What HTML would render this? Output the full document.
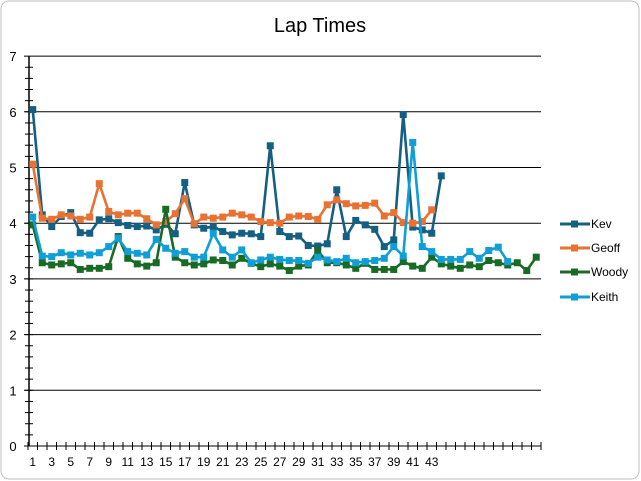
<!DOCTYPE html>
<html><head><meta charset="utf-8"><style>
body{margin:0;background:#fff}
svg{display:block;font-family:"Liberation Sans",sans-serif}
</style></head><body>
<svg id="s" width="641" height="481" xmlns="http://www.w3.org/2000/svg">
<rect x="1" y="1" width="638" height="478" rx="8" fill="#fff" stroke="#bfbfbf"/>
<text x="320" y="32" font-size="20" text-anchor="middle" fill="#000">Lap Times</text>
<g id="g"></g>
<g font-size="12" fill="#000">
<line x1="560" y1="224" x2="590" y2="224" stroke="#156082" stroke-width="3"/><rect x="571" y="220.5" width="7" height="7" fill="#156082"/><text x="591" y="228">Kev</text>
<line x1="560" y1="248" x2="590" y2="248" stroke="#e97132" stroke-width="3"/><rect x="571" y="244.5" width="7" height="7" fill="#e97132"/><text x="591" y="252">Geoff</text>
<line x1="560" y1="272" x2="590" y2="272" stroke="#196b24" stroke-width="3"/><rect x="571" y="268.5" width="7" height="7" fill="#196b24"/><text x="591" y="276">Woody</text>
<line x1="560" y1="297" x2="590" y2="297" stroke="#0f9ed5" stroke-width="3"/><rect x="571" y="293.5" width="7" height="7" fill="#0f9ed5"/><text x="591" y="301">Keith</text>
</g>
</svg>
<script>
var g=document.getElementById('g'),h='';
var X0=28,X1=541,Y0=446,U=55.7,W=9.5;
function yv(v){return Y0-v*U}
function xi(i){return X0+(i-0.5)*W}
for(var v=0;v<=7;v++){var y=yv(v);h+='<line x1="24" y1="'+y+'" x2="'+X1+'" y2="'+y+'" stroke="#000" stroke-width="1"/>';
h+='<text x="13" y="'+(y+5)+'" font-size="13" text-anchor="middle">'+v+'</text>';}
for(var k=0;k<35;k++){var y=yv(k*0.2);h+='<line x1="25" y1="'+y+'" x2="33" y2="'+y+'" stroke="#000"/>';}
h+='<line x1="29" y1="'+yv(7)+'" x2="29" y2="'+Y0+'" stroke="#000" stroke-width="1.5"/>';
for(var i=0;i<=54;i++){var x=X0+i*W;h+='<line x1="'+x+'" y1="'+(Y0-4)+'" x2="'+x+'" y2="'+(Y0+4)+'" stroke="#000"/>';}
for(var i=1;i<=43;i+=2)h+='<text x="'+xi(i)+'" y="466" font-size="12" text-anchor="middle">'+i+'</text>';
var S=[
["#156082",[6.04,4.15,3.94,4.12,4.19,3.83,3.82,4.06,4.08,4.01,3.96,3.94,3.95,3.88,3.98,3.81,4.73,3.97,3.91,3.94,3.85,3.79,3.82,3.81,3.76,5.39,3.85,3.76,3.77,3.6,3.59,3.63,4.6,3.76,4.05,3.97,3.89,3.58,3.7,5.95,3.93,3.88,3.82,4.85]],
["#e97132",[5.06,4.09,4.07,4.15,4.13,4.07,4.11,4.71,4.21,4.15,4.18,4.18,4.08,3.97,4.03,4.17,4.44,3.99,4.11,4.09,4.11,4.18,4.15,4.11,4.03,4.01,4.0,4.11,4.13,4.12,4.07,4.33,4.42,4.35,4.31,4.32,4.36,4.13,4.19,4.01,4.0,4.03,4.24]],
["#196b24",[3.97,3.29,3.25,3.27,3.29,3.17,3.19,3.19,3.22,3.76,3.37,3.27,3.23,3.29,4.25,3.39,3.29,3.25,3.27,3.34,3.33,3.25,3.37,3.28,3.22,3.27,3.23,3.15,3.23,3.25,3.51,3.29,3.29,3.25,3.19,3.28,3.17,3.17,3.17,3.31,3.23,3.19,3.39,3.27,3.23,3.19,3.25,3.22,3.33,3.29,3.25,3.29,3.15,3.39]],
["#0f9ed5",[4.11,3.41,3.4,3.47,3.43,3.46,3.43,3.47,3.58,3.73,3.49,3.46,3.43,3.71,3.55,3.46,3.49,3.39,3.39,3.82,3.52,3.39,3.52,3.29,3.34,3.39,3.35,3.33,3.33,3.28,3.39,3.34,3.31,3.37,3.29,3.31,3.33,3.37,3.58,3.41,5.45,3.58,3.49,3.35,3.35,3.35,3.49,3.37,3.51,3.57,3.31]]];
S.forEach(function(s){var p=s[1].map(function(v,i){return xi(i+1)+','+yv(v)}).join(' ');
h+='<polyline points="'+p+'" fill="none" stroke="'+s[0]+'" stroke-width="2.6" stroke-linejoin="round"/>';
s[1].forEach(function(v,i){h+='<rect x="'+(xi(i+1)-3.5)+'" y="'+(yv(v)-3.5)+'" width="7" height="7" fill="'+s[0]+'"/>';});});
g.innerHTML=h;
</script>
</body></html>
